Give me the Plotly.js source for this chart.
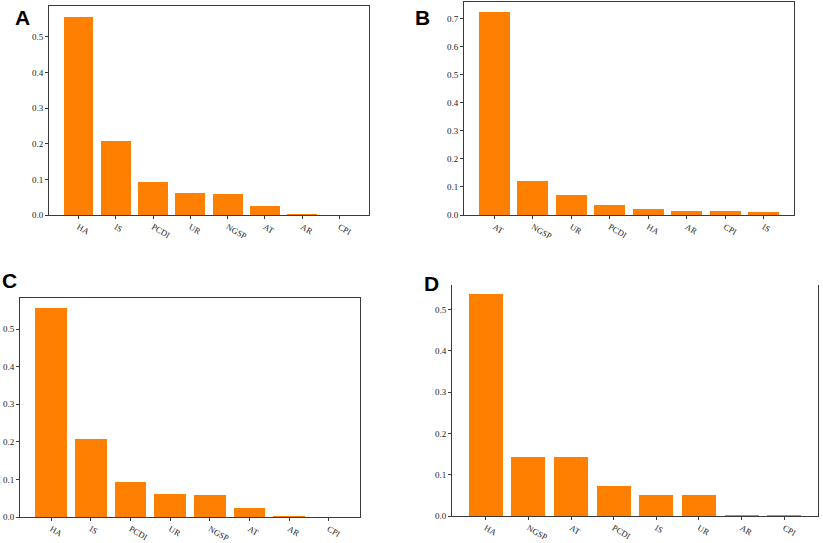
<!DOCTYPE html>
<html>
<head>
<meta charset="utf-8">
<script src="https://cdn.plot.ly/plotly-3.0.1.min.js"></script>
<style>
  body { margin: 0; background: #fff; }
  #chart { width: 823px; height: 543px; }
</style>
</head>
<body>
<div id="chart"></div>
<script>
// feature importance per panel
const labelsA = ['HA', 'IS', 'PCDI', 'UR', 'NGSP', 'AT', 'AR', 'CPI'];
const valuesA = [0.557, 0.207, 0.092, 0.063, 0.060, 0.024, 0.003, 0.0005];

const labelsB = ['AT', 'NGSP', 'UR', 'PCDI', 'HA', 'AR', 'CPI', 'IS'];
const valuesB = [0.725, 0.121, 0.071, 0.037, 0.020, 0.014, 0.014, 0.012];

const labelsC = ['HA', 'IS', 'PCDI', 'UR', 'NGSP', 'AT', 'AR', 'CPI'];
const valuesC = [0.557, 0.208, 0.092, 0.062, 0.059, 0.025, 0.003, 0.0005];

const labelsD = ['HA', 'NGSP', 'AT', 'PCDI', 'IS', 'UR', 'AR', 'CPI'];
const valuesD = [0.537, 0.1425, 0.1425, 0.073, 0.052, 0.050, 0.0025, 0.0025];

const panelNames = ['A', 'B', 'C', 'D'];

const W = 823, H = 543;
const orange = '#ff8000';
const spine = '#3a3a3a';
const tickFont = { family: 'Liberation Serif, DejaVu Serif, serif', size: 9, color: '#222' };
const xTickFont = { family: 'Liberation Serif, DejaVu Serif, serif', size: 8.5, color: '#222' };

function bars(x, y, n) {
  return {
    type: 'bar',
    x: x.map((_, i) => i),
    y: y,
    width: 0.8,
    marker: { color: orange, line: { width: 0 } },
    xaxis: 'x' + (n === 1 ? '' : n),
    yaxis: 'y' + (n === 1 ? '' : n),
    showlegend: false,
    hoverinfo: 'x+y'
  };
}

function xAxis(labels, left, right, anchor, mirror) {
  return {
    domain: [left / W, right / W],
    anchor: anchor,
    range: [-0.79, labels.length - 0.21],
    tickvals: labels.map((_, i) => i),
    ticktext: labels,
    tickangle: 30,
    tickfont: xTickFont,
    ticks: 'outside',
    ticklen: 3,
    tickcolor: spine,
    showline: true,
    linecolor: spine,
    linewidth: 1,
    mirror: mirror,
    showgrid: false,
    zeroline: false,
    fixedrange: true
  };
}

function yAxis(top, bottom, maxv, dtick, anchor, mirror) {
  return {
    domain: [1 - bottom / H, 1 - top / H],
    anchor: anchor,
    range: [0, maxv],
    dtick: dtick,
    tickformat: '.1f',
    tickfont: tickFont,
    ticks: 'outside',
    ticklen: 3,
    tickcolor: spine,
    showline: true,
    linecolor: spine,
    linewidth: 1,
    mirror: mirror,
    showgrid: false,
    zeroline: false,
    fixedrange: true
  };
}

const data = [
  bars(labelsA, valuesA, 1),
  bars(labelsB, valuesB, 2),
  bars(labelsC, valuesC, 3),
  bars(labelsD, valuesD, 4)
];

const panelPos = [[22, 17], [423, 17], [9, 280], [431, 283]];

const layout = {
  width: W,
  height: H,
  margin: { l: 0, r: 0, t: 0, b: 0 },
  paper_bgcolor: '#fff',
  plot_bgcolor: '#fff',
  bargap: 0,
  xaxis:  xAxis(labelsA, 49, 369, 'y', true),
  yaxis:  yAxis(6, 215, 0.587, 0.1, 'x', true),
  xaxis2: xAxis(labelsB, 464, 794, 'y2', true),
  yaxis2: yAxis(2, 215, 0.760, 0.1, 'x2', true),
  xaxis3: xAxis(labelsC, 20, 360, 'y3', true),
  yaxis3: yAxis(298, 517, 0.583, 0.1, 'x3', true),
  xaxis4: xAxis(labelsD, 452, 818, 'y4', false),
  yaxis4: yAxis(285, 516, 0.559, 0.1, 'x4', true),
  annotations: panelNames.map((t, i) => ({
    text: '<b>' + t + '</b>',
    xref: 'paper', yref: 'paper',
    x: panelPos[i][0] / W, y: 1 - panelPos[i][1] / H,
    xanchor: 'center', yanchor: 'middle',
    showarrow: false,
    font: { family: 'Liberation Sans, Arial, sans-serif', size: 21, color: '#000' }
  }))
};

Plotly.newPlot('chart', data, layout, { displayModeBar: false, staticPlot: true });
</script>
</body>
</html>
